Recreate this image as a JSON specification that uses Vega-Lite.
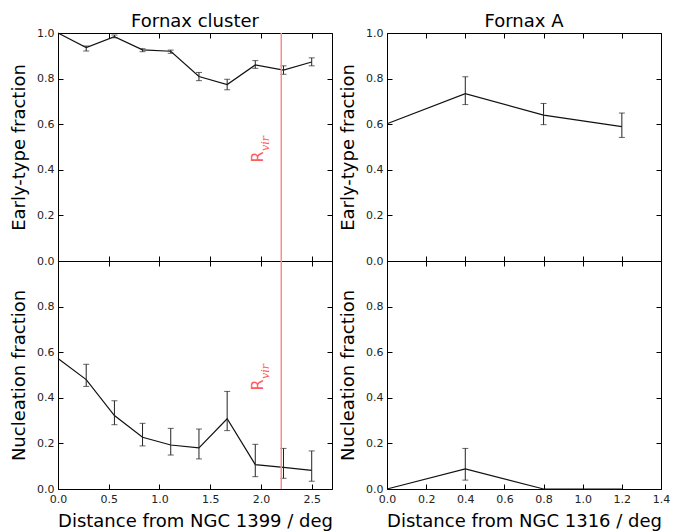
{
  "$schema": "https://vega.github.io/schema/vega-lite/v6.json",
  "background": "white",
  "padding": {"left": 10, "top": 12, "right": 5, "bottom": 0},
  "spacing": 6,
  "config": {
    "font": "DejaVu Sans",
    "view": {"stroke": "black", "strokeWidth": 1},
    "axis": {
      "domain": false,
      "grid": false,
      "minExtent": 0,
      "tickColor": "black",
      "tickSize": -5,
      "tickWidth": 1,
      "labelFont": "DejaVu Sans",
      "labelFontSize": 11,
      "labelColor": "#222",
      "labelPadding": 9,
      "labelFlush": false,
      "labelOverlap": false,
      "titleFont": "DejaVu Sans",
      "titleFontSize": 18,
      "titleFontWeight": "normal",
      "titleColor": "black",
      "titlePadding": 8
    },
    "title": {"font": "DejaVu Sans", "fontSize": 18, "fontWeight": "normal", "color": "black", "offset": -4}
  },
  "datasets": {
    "d": [
      {"p": "clet", "x": 0.0, "y": 1.0, "lo": null, "hi": null},
      {"p": "clet", "x": 0.278, "y": 0.936, "lo": 0.921, "hi": 0.943},
      {"p": "clet", "x": 0.556, "y": 0.984, "lo": 0.979, "hi": 0.991},
      {"p": "clet", "x": 0.833, "y": 0.926, "lo": 0.918, "hi": 0.931},
      {"p": "clet", "x": 1.111, "y": 0.920, "lo": 0.911, "hi": 0.925},
      {"p": "clet", "x": 1.389, "y": 0.809, "lo": 0.791, "hi": 0.827},
      {"p": "clet", "x": 1.667, "y": 0.774, "lo": 0.751, "hi": 0.797},
      {"p": "clet", "x": 1.944, "y": 0.860, "lo": 0.845, "hi": 0.879},
      {"p": "clet", "x": 2.222, "y": 0.837, "lo": 0.819, "hi": 0.856},
      {"p": "clet", "x": 2.5, "y": 0.873, "lo": 0.856, "hi": 0.891},
      {"p": "clnu", "x": 0.0, "y": 0.572, "lo": null, "hi": null},
      {"p": "clnu", "x": 0.278, "y": 0.480, "lo": 0.450, "hi": 0.547},
      {"p": "clnu", "x": 0.556, "y": 0.322, "lo": 0.282, "hi": 0.387},
      {"p": "clnu", "x": 0.833, "y": 0.227, "lo": 0.189, "hi": 0.288},
      {"p": "clnu", "x": 1.111, "y": 0.193, "lo": 0.149, "hi": 0.266},
      {"p": "clnu", "x": 1.389, "y": 0.180, "lo": 0.132, "hi": 0.263},
      {"p": "clnu", "x": 1.667, "y": 0.308, "lo": 0.256, "hi": 0.428},
      {"p": "clnu", "x": 1.944, "y": 0.107, "lo": 0.054, "hi": 0.196},
      {"p": "clnu", "x": 2.222, "y": 0.095, "lo": 0.047, "hi": 0.178},
      {"p": "clnu", "x": 2.5, "y": 0.082, "lo": 0.034, "hi": 0.167},
      {"p": "faet", "x": 0.0, "y": 0.602, "lo": null, "hi": null},
      {"p": "faet", "x": 0.4, "y": 0.734, "lo": 0.686, "hi": 0.808},
      {"p": "faet", "x": 0.8, "y": 0.640, "lo": 0.598, "hi": 0.691},
      {"p": "faet", "x": 1.2, "y": 0.589, "lo": 0.542, "hi": 0.649},
      {"p": "fanu", "x": 0.0, "y": 0.0, "lo": null, "hi": null},
      {"p": "fanu", "x": 0.4, "y": 0.088, "lo": 0.039, "hi": 0.178},
      {"p": "fanu", "x": 0.8, "y": 0.0, "lo": null, "hi": null},
      {"p": "fanu", "x": 1.2, "y": 0.0, "lo": null, "hi": null}
    ],
    "rvir": [{"x": 2.2}],
    "rlab": [{"x": 2.018, "y": 0.432, "t": "R"}],
    "vlab": [{"x": 2.084, "y": 0.483, "t": "vir"}]
  },
  "hconcat": [
    {
      "spacing": 0,
      "bounds": "flush",
      "vconcat": [
        {
          "width": 274, "height": 228,
          "title": {"text": "Fornax cluster"},
          "data": {"name": "d"},
          "transform": [{"filter": "datum.p == 'clet'"}],
          "resolve": {"axis": {"x": "independent", "y": "independent"}},
          "layer": [
            {
              "mark": {"type": "line", "color": "#111", "strokeWidth": 1.2},
              "encoding": {
                "x": {"field": "x", "type": "quantitative", "scale": {"domain": [0, 2.7], "nice": false, "zero": false},
                      "axis": {"orient": "bottom", "labels": false, "title": null, "values": [0, 0.5, 1, 1.5, 2, 2.5]}},
                "y": {"field": "y", "type": "quantitative", "scale": {"domain": [0, 1], "nice": false},
                      "axis": {"orient": "left", "title": "Early-type fraction", "values": [0, 0.2, 0.4, 0.6, 0.8, 1.0], "format": ".1f"}}
              }
            },
            {
              "transform": [{"filter": "datum.lo != null"}],
              "mark": {"type": "errorbar", "color": "#222", "ticks": {"size": 6}},
              "encoding": {
                "x": {"field": "x", "type": "quantitative", "axis": null},
                "y": {"field": "lo", "type": "quantitative", "axis": null},
                "y2": {"field": "hi"}
              }
            },
            {
              "mark": {"type": "point", "opacity": 0},
              "encoding": {
                "x": {"field": "x", "type": "quantitative", "axis": {"orient": "top", "labels": false, "title": null, "values": [0, 0.5, 1, 1.5, 2, 2.5]}},
                "y": {"field": "y", "type": "quantitative", "axis": {"orient": "right", "labels": false, "title": null, "values": [0, 0.2, 0.4, 0.6, 0.8, 1.0]}}
              }
            },
            {
              "data": {"name": "rvir"},
              "mark": {"type": "rule", "color": "#ff8c8c", "strokeWidth": 1.5},
              "encoding": {"x": {"field": "x", "type": "quantitative", "axis": null}}
            },
            {
              "data": {"name": "rlab"},
              "mark": {"type": "text", "angle": 270, "align": "left", "baseline": "alphabetic", "fontSize": 16, "color": "#ff5c5c", "font": "DejaVu Sans"},
              "encoding": {
                "x": {"field": "x", "type": "quantitative", "axis": null},
                "y": {"field": "y", "type": "quantitative", "axis": null},
                "text": {"field": "t"}
              }
            },
            {
              "data": {"name": "vlab"},
              "mark": {"type": "text", "angle": 270, "align": "left", "baseline": "alphabetic", "fontSize": 11, "fontStyle": "italic", "color": "#ff5c5c", "font": "DejaVu Serif"},
              "encoding": {
                "x": {"field": "x", "type": "quantitative", "axis": null},
                "y": {"field": "y", "type": "quantitative", "axis": null},
                "text": {"field": "t"}
              }
            }
          ]
        },
        {
          "width": 274, "height": 228,
          "data": {"name": "d"},
          "transform": [{"filter": "datum.p == 'clnu'"}],
          "resolve": {"axis": {"x": "independent", "y": "independent"}},
          "layer": [
            {
              "mark": {"type": "line", "color": "#111", "strokeWidth": 1.2},
              "encoding": {
                "x": {"field": "x", "type": "quantitative", "scale": {"domain": [0, 2.7], "nice": false, "zero": false},
                      "axis": {"orient": "bottom", "title": "Distance from NGC 1399 / deg", "values": [0, 0.5, 1, 1.5, 2, 2.5], "format": ".1f"}},
                "y": {"field": "y", "type": "quantitative", "scale": {"domain": [0, 1], "nice": false},
                      "axis": {"orient": "left", "title": "Nucleation fraction", "values": [0, 0.2, 0.4, 0.6, 0.8], "format": ".1f"}}
              }
            },
            {
              "transform": [{"filter": "datum.lo != null"}],
              "mark": {"type": "errorbar", "color": "#222", "ticks": {"size": 6}},
              "encoding": {
                "x": {"field": "x", "type": "quantitative", "axis": null},
                "y": {"field": "lo", "type": "quantitative", "axis": null},
                "y2": {"field": "hi"}
              }
            },
            {
              "mark": {"type": "point", "opacity": 0},
              "encoding": {
                "x": {"field": "x", "type": "quantitative", "axis": {"orient": "top", "labels": false, "title": null, "values": [0, 0.5, 1, 1.5, 2, 2.5]}},
                "y": {"field": "y", "type": "quantitative", "axis": {"orient": "right", "labels": false, "title": null, "values": [0, 0.2, 0.4, 0.6, 0.8, 1.0]}}
              }
            },
            {
              "data": {"name": "rvir"},
              "mark": {"type": "rule", "color": "#ff8c8c", "strokeWidth": 1.5},
              "encoding": {"x": {"field": "x", "type": "quantitative", "axis": null}}
            },
            {
              "data": {"name": "rlab"},
              "mark": {"type": "text", "angle": 270, "align": "left", "baseline": "alphabetic", "fontSize": 16, "color": "#ff5c5c", "font": "DejaVu Sans"},
              "encoding": {
                "x": {"field": "x", "type": "quantitative", "axis": null},
                "y": {"field": "y", "type": "quantitative", "axis": null},
                "text": {"field": "t"}
              }
            },
            {
              "data": {"name": "vlab"},
              "mark": {"type": "text", "angle": 270, "align": "left", "baseline": "alphabetic", "fontSize": 11, "fontStyle": "italic", "color": "#ff5c5c", "font": "DejaVu Serif"},
              "encoding": {
                "x": {"field": "x", "type": "quantitative", "axis": null},
                "y": {"field": "y", "type": "quantitative", "axis": null},
                "text": {"field": "t"}
              }
            }
          ]
        }
      ]
    },
    {
      "spacing": 0,
      "bounds": "flush",
      "vconcat": [
        {
          "width": 274, "height": 228,
          "title": {"text": "Fornax A"},
          "data": {"name": "d"},
          "transform": [{"filter": "datum.p == 'faet'"}],
          "resolve": {"axis": {"x": "independent", "y": "independent"}},
          "layer": [
            {
              "mark": {"type": "line", "color": "#111", "strokeWidth": 1.2},
              "encoding": {
                "x": {"field": "x", "type": "quantitative", "scale": {"domain": [0, 1.4], "nice": false, "zero": false},
                      "axis": {"orient": "bottom", "labels": false, "title": null, "values": [0, 0.2, 0.4, 0.6, 0.8, 1.0, 1.2, 1.4]}},
                "y": {"field": "y", "type": "quantitative", "scale": {"domain": [0, 1], "nice": false},
                      "axis": {"orient": "left", "title": "Early-type fraction", "values": [0, 0.2, 0.4, 0.6, 0.8, 1.0], "format": ".1f"}}
              }
            },
            {
              "transform": [{"filter": "datum.lo != null"}],
              "mark": {"type": "errorbar", "color": "#222", "ticks": {"size": 6}},
              "encoding": {
                "x": {"field": "x", "type": "quantitative", "axis": null},
                "y": {"field": "lo", "type": "quantitative", "axis": null},
                "y2": {"field": "hi"}
              }
            },
            {
              "mark": {"type": "point", "opacity": 0},
              "encoding": {
                "x": {"field": "x", "type": "quantitative", "axis": {"orient": "top", "labels": false, "title": null, "values": [0, 0.2, 0.4, 0.6, 0.8, 1.0, 1.2, 1.4]}},
                "y": {"field": "y", "type": "quantitative", "axis": {"orient": "right", "labels": false, "title": null, "values": [0, 0.2, 0.4, 0.6, 0.8, 1.0]}}
              }
            }
          ]
        },
        {
          "width": 274, "height": 228,
          "data": {"name": "d"},
          "transform": [{"filter": "datum.p == 'fanu'"}],
          "resolve": {"axis": {"x": "independent", "y": "independent"}},
          "layer": [
            {
              "mark": {"type": "line", "color": "#111", "strokeWidth": 1.2},
              "encoding": {
                "x": {"field": "x", "type": "quantitative", "scale": {"domain": [0, 1.4], "nice": false, "zero": false},
                      "axis": {"orient": "bottom", "title": "Distance from NGC 1316 / deg", "values": [0, 0.2, 0.4, 0.6, 0.8, 1.0, 1.2, 1.4], "format": ".1f"}},
                "y": {"field": "y", "type": "quantitative", "scale": {"domain": [0, 1], "nice": false},
                      "axis": {"orient": "left", "title": "Nucleation fraction", "values": [0, 0.2, 0.4, 0.6, 0.8], "format": ".1f"}}
              }
            },
            {
              "transform": [{"filter": "datum.lo != null"}],
              "mark": {"type": "errorbar", "color": "#222", "ticks": {"size": 6}},
              "encoding": {
                "x": {"field": "x", "type": "quantitative", "axis": null},
                "y": {"field": "lo", "type": "quantitative", "axis": null},
                "y2": {"field": "hi"}
              }
            },
            {
              "mark": {"type": "point", "opacity": 0},
              "encoding": {
                "x": {"field": "x", "type": "quantitative", "axis": {"orient": "top", "labels": false, "title": null, "values": [0, 0.2, 0.4, 0.6, 0.8, 1.0, 1.2, 1.4]}},
                "y": {"field": "y", "type": "quantitative", "axis": {"orient": "right", "labels": false, "title": null, "values": [0, 0.2, 0.4, 0.6, 0.8, 1.0]}}
              }
            }
          ]
        }
      ]
    }
  ]
}
